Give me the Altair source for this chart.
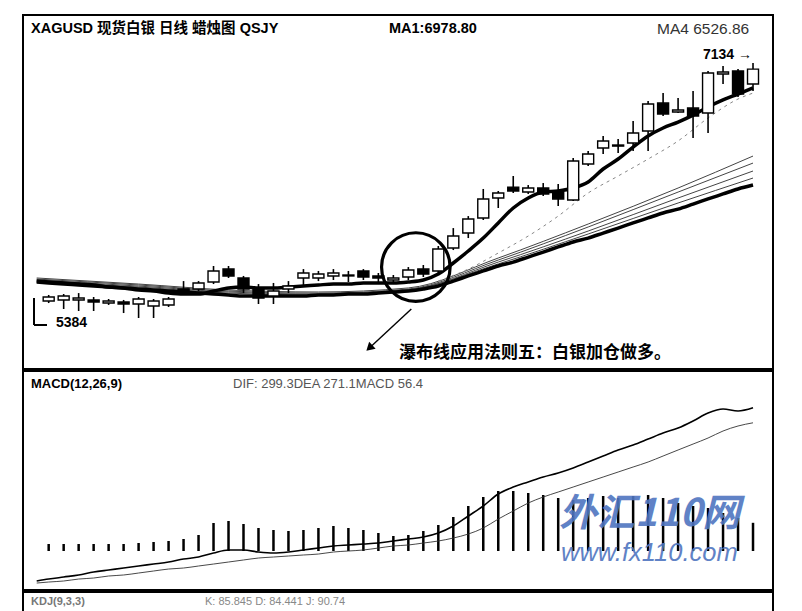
import altair as alt
import pandas as pd

# ---------------- data ----------------
idx = list(range(48))
opens  = [5369,5377,5377,5377,5354,5362,5347,5332,5340,5458, 5458,5510,5606,5540,5458,5406,5458,5540,5540,5555,
          5562,5592,5555,5525,5547,5606,5592,5762,5873,5985, 6133,6214,6177,6207,6185,6118,6385,6504,6526,6541,
          6630,6837,6771,6800,6763,7052,7075,6978]
closes = [5399,5406,5391,5362,5369,5347,5384,5369,5384,5428, 5503,5592,5555,5458,5391,5443,5480,5577,5569,5577,
          5555,5547,5540,5540,5599,5569,5755,5851,5977,6126, 6170,6185,6207,6163,6126,6407,6459,6556,6518,6615,
          6830,6756,6785,6741,7060,7067,6904,7089]
highs  = [5414,5421,5428,5399,5384,5377,5399,5384,5399,5517, 5517,5629,5629,5555,5495,5503,5517,5606,5592,5606,
          5592,5606,5577,5562,5621,5636,5777,5910,5999,6200, 6185,6296,6229,6244,6237,6430,6481,6593,6570,6704,
          6852,6911,6874,6926,7075,7112,7089,7134]
lows   = [5354,5310,5295,5295,5340,5280,5243,5243,5325,5421, 5443,5495,5540,5428,5347,5347,5428,5480,5517,5525,
          5510,5525,5495,5495,5525,5547,5577,5747,5836,5970, 6059,6170,6163,6148,6074,6111,6370,6459,6467,6481,
          6481,6741,6763,6578,6615,6978,6882,6926]

ma_idx = [-0.8] + list(range(48))
ma_short = [5517, 5510,5503,5495,5488,5473,5466,5451,5443,5428,5421, 5421,5443,5466,5473,5466,5466,5473,5480,5488,5495,
            5495,5503,5503,5503,5510,5525,5569,5651,5740,5836, 5948,6059,6133,6177,6185,6207,6252,6348,6422,6511,
            6593,6652,6696,6748,6808,6860,6904,6949]
ma_long = [5510, 5503,5495,5488,5480,5473,5466,5458,5451,5443,5436, 5428,5421,5414,5406,5406,5406,5406,5406,5414,5414,
           5421,5421,5428,5436,5443,5458,5480,5517,5555,5592, 5629,5658,5695,5732,5770,5807,5836,5873,5910,5948,
           5985,6022,6051,6088,6126,6163,6200,6229]

bundle_idx = [-0.8, 6, 12, 18, 24, 30, 36, 42, 47]
ma_b1 = [5540,5495,5451,5436,5466,5688,5940,6207,6444]
ma_b2 = [5532,5488,5443,5428,5458,5673,5918,6177,6392]
ma_b3 = [5525,5480,5436,5421,5451,5658,5888,6133,6333]
ma_b4 = [5517,5473,5428,5414,5451,5644,5866,6096,6281]

dash_idx = [26,28,30,32,34,36,38,40,42,44,46,47]
ma_dash = [5517,5606,5725,5851,5999,6170,6296,6422,6556,6726,6867,6911]

macd_idx = [-0.8] + list(range(48))
dif = [-26.3, -22.6,-18.8,-15.0,-9.4,-5.6,-1.9,1.9,5.6,9.4,15.0, 18.8,26.3,32.0,32.0,28.2,26.3,28.2,32.0,35.7,39.5,
       41.4,43.2,45.1,48.9,52.6,56.4,63.9,77.1,95.9,114.7, 137.2,150.4,159.8,169.2,176.7,186.1,197.4,208.7,220.0,229.4,
       240.6,251.9,261.3,274.5,289.5,297.0,293.3,299.3]
dea = [-30.1, -28.2,-26.3,-22.6,-20.7,-16.9,-15.0,-11.3,-7.5,-3.8,-1.9, 1.9,5.6,9.4,13.2,16.9,18.8,20.7,22.6,24.4,28.2,
       30.1,32.0,35.7,39.5,41.4,45.1,48.9,54.5,62.0,73.3, 90.2,105.3,120.3,131.6,141.0,150.4,159.8,169.2,178.6,188.0,
       197.4,208.7,220.0,231.2,242.5,255.7,265.1,271.1]
hist = [14,14,14,14,14,14,16,18,20,24, 32,56,60,54,46,42,40,42,46,50,
        46,42,36,30,32,40,52,68,90,108, 120,120,116,112,106,102,106,110,106,110,
        112,106,96,90,86,76,66,56.4]

circle_i = [24.5]
circle_p = [5621]
arrow_i = [24.2, 21.4]
arrow_p = [5310, 5021]

title_text = "XAGUSD 现货白银 日线 蜡烛图 QSJY"
ma1_text = "MA1:6978.80"
ma4_text = "MA4 6526.86"
note_text = "瀑布线应用法则五：白银加仓做多。"
high_text = "7134 →"
low_text = "5384"
macd_title = "MACD(12,26,9)"
macd_vals = "DIF: 299.3DEA  271.1MACD   56.4"
kdj_left = "KDJ(9,3,3)"
kdj_vals = "K: 85.845   D: 84.441   J: 90.74"
wm1 = "外汇110网"
wm2 = "www.fx110.com"

FONT = "Liberation Sans, Arial, Noto Sans CJK SC"
CJK = "Noto Sans CJK SC"

# ---------------- tables ----------------
candles = pd.DataFrame({"i": idx, "open": opens, "close": closes, "high": highs, "low": lows})
candles["dir"] = ["up" if c >= o else "down" for o, c in zip(opens, closes)]

main_lines = pd.DataFrame({"i": ma_idx, "short": ma_short, "long": ma_long})
bundle = pd.concat([
    pd.DataFrame({"i": bundle_idx, "p": v, "s": name})
    for name, v in [("b1", ma_b1), ("b2", ma_b2), ("b3", ma_b3), ("b4", ma_b4)]
])
dashed = pd.DataFrame({"i": dash_idx, "p": ma_dash})
macd_lines = pd.DataFrame({"i": macd_idx, "dif": dif, "dea": dea})
macd_bars = pd.DataFrame({"i": idx, "hist": hist})

W = 750
XS = alt.Scale(domain=[-1.38, 48.0], nice=False, zero=False)
PS = alt.Scale(domain=[4865, 7490], nice=False, zero=False)
X = alt.X("i:Q", scale=XS, axis=None)


def P(field):
    return alt.Y(field, type="quantitative", scale=PS, axis=None)


def txt(s):
    return pd.DataFrame({"t": [s]})


# ---------------- price panel ----------------
bund = alt.Chart(bundle).mark_line(color="#444", strokeWidth=1, interpolate="monotone").encode(
    x=X, y=P("p"), detail="s:N")
dash = alt.Chart(dashed).mark_line(color="#888", strokeWidth=1, strokeDash=[3, 4], interpolate="monotone").encode(
    x=X, y=P("p"))
long_l = alt.Chart(main_lines).mark_line(color="black", strokeWidth=3.5, interpolate="monotone").encode(
    x=X, y=P("long"))
short_l = alt.Chart(main_lines).mark_line(color="black", strokeWidth=3.5, interpolate="monotone").encode(
    x=X, y=P("short"))
wick = alt.Chart(candles).mark_rule(color="black", strokeWidth=1.6).encode(
    x=X, y=P("low"), y2="high")
body = alt.Chart(candles).mark_bar(size=11, stroke="black", strokeWidth=1.4).encode(
    x=X, y=P("open"), y2="close",
    fill=alt.Fill("dir:N", scale=alt.Scale(domain=["up", "down"], range=["white", "black"]), legend=None))

circ = alt.Chart(pd.DataFrame({"i": circle_i, "p": circle_p})).mark_point(
    shape="circle", size=4700, filled=False, stroke="black", strokeWidth=3.2, opacity=1).encode(x=X, y=P("p"))
arrow_line = alt.Chart(pd.DataFrame({"i": arrow_i, "p": arrow_p})).mark_line(
    color="black", strokeWidth=1.4).encode(x=X, y=P("p"))
arrow_head = alt.Chart(pd.DataFrame({"i": arrow_i[-1:], "p": arrow_p[-1:]})).mark_point(
    shape="triangle-up", size=90, filled=True, color="black", opacity=1, angle=227).encode(x=X, y=P("p"))

hi_lab = alt.Chart(pd.DataFrame({"i": [idx[-1]], "p": [max(highs)], "t": [high_text]})).mark_text(
    align="right", baseline="middle", dx=-1, dy=-8, font=FONT, fontSize=14, fontWeight="bold", color="black").encode(
    x=X, y=P("p"), text="t:N")

lo_v = alt.Chart(txt("")).mark_rule(color="black", strokeWidth=2).encode(
    x=alt.value(11), y=alt.value(283), y2=alt.value(310))
lo_h = alt.Chart(txt("")).mark_rule(color="black", strokeWidth=2).encode(
    x=alt.value(11), x2=alt.value(24), y=alt.value(310))
lo_lab = alt.Chart(txt(low_text)).mark_text(
    align="left", baseline="middle", font=FONT, fontSize=14, fontWeight="bold", color="black").encode(
    x=alt.value(33), y=alt.value(308), text="t:N")

t_title = alt.Chart(txt(title_text)).mark_text(
    align="left", baseline="middle", font=FONT, fontSize=14.5, fontWeight="bold", color="black").encode(
    x=alt.value(8), y=alt.value(14), text="t:N")
t_ma1 = alt.Chart(txt(ma1_text)).mark_text(
    align="left", baseline="middle", font=FONT, fontSize=14.5, fontWeight="bold", color="black").encode(
    x=alt.value(366), y=alt.value(14), text="t:N")
t_ma4 = alt.Chart(txt(ma4_text)).mark_text(
    align="left", baseline="middle", font=FONT, fontSize=15.5, color="#333").encode(
    x=alt.value(634), y=alt.value(14), text="t:N")
t_note = alt.Chart(txt(note_text)).mark_text(
    align="left", baseline="middle", font=CJK, fontSize=17, fontWeight="bold", color="black").encode(
    x=alt.value(376), y=alt.value(338), text="t:N")

price = alt.layer(
    bund, dash, long_l, short_l, wick, body, circ, arrow_line, arrow_head,
    hi_lab, lo_v, lo_h, lo_lab, t_title, t_ma1, t_ma4, t_note
).properties(width=W, height=354)

# ---------------- MACD panel ----------------
MS = alt.Scale(domain=[-43.2, 368.5], nice=False, zero=False)
HS = alt.Scale(domain=[-78, 360], nice=False, zero=False)

bars = alt.Chart(macd_bars).mark_bar(size=2.5, color="black").encode(
    x=X, y=alt.Y("hist:Q", scale=HS, axis=None), y2=alt.datum(0))
dif_l = alt.Chart(macd_lines).mark_line(color="black", strokeWidth=1.6, interpolate="monotone").encode(
    x=X, y=alt.Y("dif:Q", scale=MS, axis=None))
dea_l = alt.Chart(macd_lines).mark_line(color="#333", strokeWidth=0.9, interpolate="monotone").encode(
    x=X, y=alt.Y("dea:Q", scale=MS, axis=None))

m_title = alt.Chart(txt(macd_title)).mark_text(
    align="left", baseline="middle", font=FONT, fontSize=13, fontWeight="bold", color="black").encode(
    x=alt.value(8), y=alt.value(13), text="t:N")
m_vals = alt.Chart(txt(macd_vals)).mark_text(
    align="left", baseline="middle", font=FONT, fontSize=13, color="#555").encode(
    x=alt.value(210), y=alt.value(13), text="t:N")
w1 = alt.Chart(txt(wm1)).mark_text(
    align="left", baseline="middle", font=CJK, fontSize=38, fontWeight="bold", fontStyle="italic",
    color="#4f75c0", opacity=0.9).encode(x=alt.value(536), y=alt.value(144), text="t:N")
w2 = alt.Chart(txt(wm2)).mark_text(
    align="left", baseline="middle", font=FONT, fontSize=25.5, fontStyle="italic",
    color="#4f75c0", opacity=0.9).encode(x=alt.value(538), y=alt.value(182), text="t:N")

macd_panel = alt.layer(bars, dif_l, dea_l, m_title, m_vals, w1, w2).resolve_scale(
    y="independent").properties(width=W, height=219)

# ---------------- bottom strip ----------------
k1 = alt.Chart(txt(kdj_left)).mark_text(
    align="left", baseline="top", font=FONT, fontSize=11, fontWeight="bold", color="#777").encode(
    x=alt.value(8), y=alt.value(4), text="t:N")
k2 = alt.Chart(txt(kdj_vals)).mark_text(
    align="left", baseline="top", font=FONT, fontSize=11, color="#888").encode(
    x=alt.value(182), y=alt.value(4), text="t:N")
strip = alt.layer(k1, k2).properties(width=W, height=30)

chart = alt.vconcat(price, macd_panel, strip, spacing=0).properties(
    padding={"left": 14, "top": 6, "right": 0, "bottom": 0},
    background="white",
).configure_view(stroke="black", strokeWidth=2)

chart.save("out.html", embed_options={"renderer": "svg", "actions": False})
